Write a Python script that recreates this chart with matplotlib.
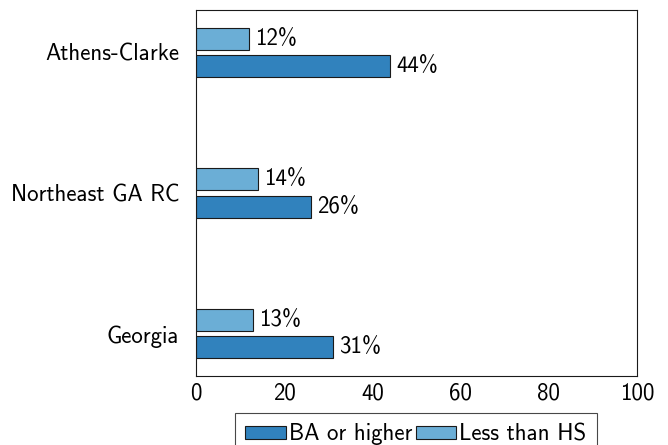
import numpy as np
import matplotlib
matplotlib.use('Agg')
import matplotlib.pyplot as plt

plt.rcParams['font.family'] = ['cmss10', 'DejaVu Sans']
plt.rcParams['axes.unicode_minus'] = False

regions = ['Athens-Clarke', 'Northeast GA RC', 'Georgia']
ba_higher = [44, 26, 31]
less_hs = [12, 14, 13]
xticks = [0, 20, 40, 60, 80, 100]

c_ba = '#3182bd'
c_hs = '#6baed6'
fs = 16.5

fig = plt.figure(figsize=(6.68, 4.45), dpi=100)
ax = fig.add_axes([196/668, 1-376/445, (637-196)/668, 366/445])

y = np.arange(len(regions))
h = 0.156
off = 0.097
b1 = ax.barh(y + off, ba_higher, height=h, color=c_ba, edgecolor='#1a1a1a', linewidth=0.8, label='BA or higher')
b2 = ax.barh(y - off, less_hs, height=h, color=c_hs, edgecolor='#1a1a1a', linewidth=0.8, label='Less than HS')

for yy, v in zip(y + off, ba_higher):
    ax.text(v + 1.4, yy, '%d%%' % v, va='center', ha='left', fontsize=fs)
for yy, v in zip(y - off, less_hs):
    ax.text(v + 1.4, yy, '%d%%' % v, va='center', ha='left', fontsize=fs)

ax.set_xlim(0, 100)
ax.set_ylim(2.3, -0.3)
ax.set_yticks(y)
ax.set_yticklabels(regions)
ax.set_xticks(xticks)
ax.tick_params(axis='both', length=0, labelsize=fs)
ax.tick_params(axis='x', pad=5)
ax.tick_params(axis='y', pad=12)
for s in ax.spines.values():
    s.set_linewidth(0.8)
    s.set_color('#1a1a1a')

leg = fig.legend(handles=[b1, b2], loc='upper center', bbox_to_anchor=(416/668, 1-413/445),
                 ncol=2, fontsize=fs, frameon=True, fancybox=False, edgecolor='#1a1a1a',
                 handlelength=1.75, handleheight=0.5, handletextpad=0.15, columnspacing=0.15,
                 borderpad=0.45, borderaxespad=0.0)
leg.get_frame().set_linewidth(0.8)

fig.savefig('out.png', dpi=100)
